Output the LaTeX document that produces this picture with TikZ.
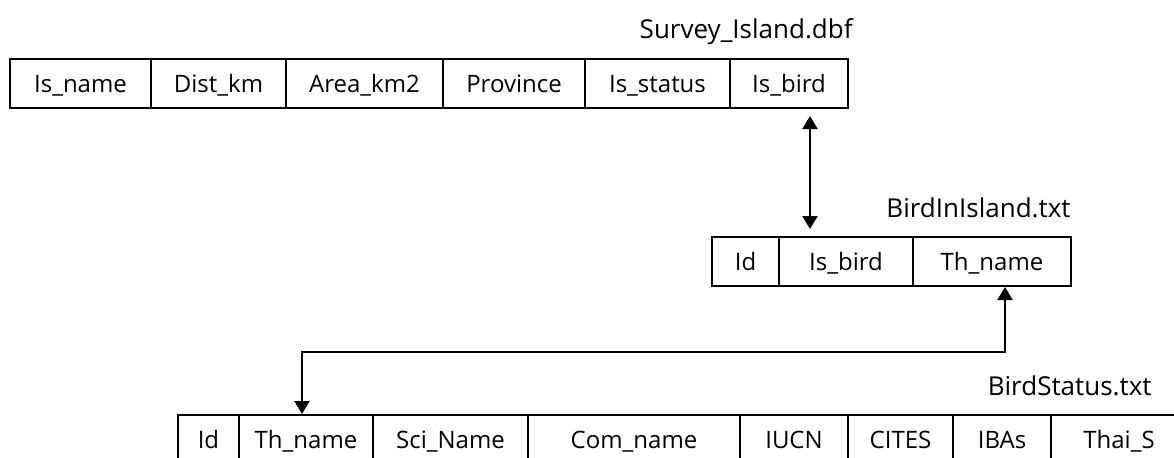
\documentclass[tikz,border=0pt]{standalone}
\usepackage{fontspec}
\setmainfont{Open Sans}
\usetikzlibrary{arrows.meta}

\tikzset{
  cell/.style={draw, line width=1pt, minimum height=24.5pt, inner sep=0pt,
    text height=8.6pt, text depth=0pt, font=\fontsize{12}{14}\selectfont},
  title/.style={anchor=base east, inner sep=0pt, font=\fontsize{13}{15}\selectfont},
  link/.style={{Triangle[width=7.5pt,length=6.5pt]}-{Triangle[width=7.5pt,length=6.5pt]}, line width=1.1pt}
}

\begin{document}
\begin{tikzpicture}[x=0.5pt, y=-0.5pt]

  \newcommand{\fld}[5]{\node[cell, minimum width={(#4-#3)*0.5pt}] (#1) at ({(#3+#4)/2}, #5) {#2};}

  \useasboundingbox (0,0) rectangle (1174,457);
  \clip (0,0) rectangle (1174,457);

  % Survey_Island.dbf
  \node[title] (sititle) at (853,38) {Survey\_Island.dbf};
  \fld{siname}{Is\_name}{10}{151}{83.5}
  \fld{sidist}{Dist\_km}{151}{286}{83.5}
  \fld{siarea}{Area\_km2}{286}{443}{83.5}
  \fld{siprov}{Province}{443}{585}{83.5}
  \fld{sistatus}{Is\_status}{585}{730}{83.5}
  \fld{sibird}{Is\_bird}{730}{848}{83.5}

  % BirdInIsland.txt
  \node[title] (bititle) at (1071,217) {BirdInIsland.txt};
  \fld{biid}{Id}{712}{779}{261.5}
  \fld{bibird}{Is\_bird}{779}{913}{261.5}
  \fld{bithname}{Th\_name}{913}{1071}{261.5}

  % BirdStatus.txt
  \node[title] (bstitle) at (1152,395) {BirdStatus.txt};
  \fld{bsid}{Id}{178}{239}{439.5}
  \fld{bsthname}{Th\_name}{239}{373}{439.5}
  \fld{bssci}{Sci\_Name}{373}{528}{439.5}
  \fld{bscom}{Com\_name}{528}{740}{439.5}
  \fld{bsiucn}{IUCN}{740}{848}{439.5}
  \fld{bscites}{CITES}{848}{953}{439.5}
  \fld{bsibas}{IBAs}{953}{1051}{439.5}
  \fld{bsthai}{Thai\_S}{1051}{1187}{439.5}

  % links
  \coordinate (av) at (810,0);
  \coordinate (jr) at (1005,352);
  \coordinate (jl) at (302,352);
  \draw[link, shorten <=3.5pt, shorten >=3.5pt] (sibird.south -| av) -- (bibird.north -| av);
  \draw[link] (bithname.south -| jr) -- (jr) -- (jl) -- (bsthname.north -| jl);

\end{tikzpicture}
\end{document}
